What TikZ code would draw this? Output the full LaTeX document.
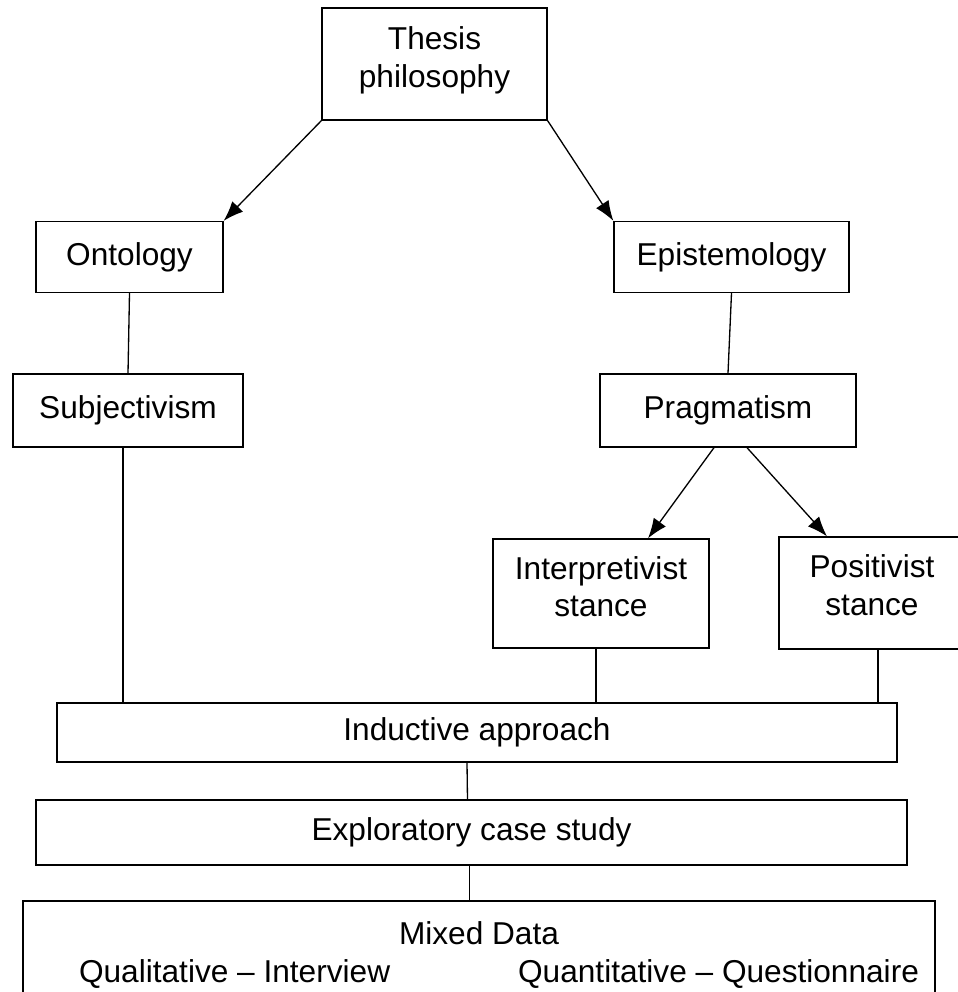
\documentclass[tikz,border=0pt]{standalone}
\usepackage{fontspec}
\setmainfont{Liberation Sans}
\usetikzlibrary{arrows.meta,calc}
\begin{document}
\begin{tikzpicture}[x=0.02cm, y=-0.02cm,
  every node/.style={font=\fontsize{18}{21.5}\selectfont},
  box/.style={draw, line width=0.75pt, fill=white, inner sep=0pt, align=center},
  link/.style={line width=0.75pt},
  arr/.style={line width=0.75pt, -{Latex[length=0.4cm, width=0.3cm]}}]
\useasboundingbox (0,0) rectangle (958,992);
% philosophy branches
\node[box, minimum width=4.5cm, minimum height=2.24cm] (thesis) at (434.5,64) {Thesis\\philosophy\rule[-0.29cm]{0pt}{0pt}};
\node[box, minimum width=3.74cm, minimum height=1.42cm] (ont) at (129.5,257) {Ontology};
\node[box, minimum width=4.7cm, minimum height=1.42cm] (epis) at (731.5,257) {Epistemology};
\node[box, minimum width=4.6cm, minimum height=1.46cm] (subj) at (128,410.5) {Subjectivism};
\node[box, minimum width=5.12cm, minimum height=1.46cm] (prag) at (728,410.5) {Pragmatism};
\node[box, minimum width=4.32cm, minimum height=2.18cm] (interp) at (601,593.5) {Interpretivist\\stance\rule[-0.28cm]{0pt}{0pt}};
\node[box, minimum width=3.72cm, minimum height=2.24cm] (posi) at (872,593) {Positivist\\stance\rule[-0.32cm]{0pt}{0pt}};
% method boxes
\node[box, minimum width=16.8cm, minimum height=1.18cm] (induct) at (477,732.5) {Inductive approach};
\node[box, minimum width=17.42cm, minimum height=1.3cm] (explor) at (471.5,832.5) {Exploratory case study};
\node[box, minimum width=18.24cm, minimum height=2.16cm] (mixed) at (479,955) {Mixed Data\\\hspace*{0.8cm}Qualitative -- Interview\hspace{2.56cm}Quantitative -- Questionnaire};
% arrows
\draw[arr] (thesis.south west) -- (ont.north east);
\draw[arr] (thesis.south east) -- (epis.north west);
\draw[arr] ($(prag.south)+(-14,0)$) -- ($(interp.north)+(47,0)$);
\draw[arr] ($(prag.south)+(19,0)$) -- ($(posi.north)+(-45,0)$);
% plain links
\draw[link] (ont.south) -- (subj.north);
\draw[link] (epis.south) -- (prag.north);
\draw[link] ($(subj.south)+(-5,0)$) -- ($(subj.south |- induct.north)+(-5,0)$);
\draw[link] ($(interp.south)+(-5,0)$) -- ($(interp.south |- induct.north)+(-5,0)$);
\draw[link] ($(posi.south)+(6,0)$) -- ($(posi.south |- induct.north)+(6,0)$);
\draw[link] ($(induct.south)+(-10,0)$) -- ($(explor.north)+(-4,0)$);
\draw[link] ($(explor.south)+(-2,0)$) -- ($(explor.south |- mixed.north)+(-2,0)$);
\end{tikzpicture}
\end{document}
